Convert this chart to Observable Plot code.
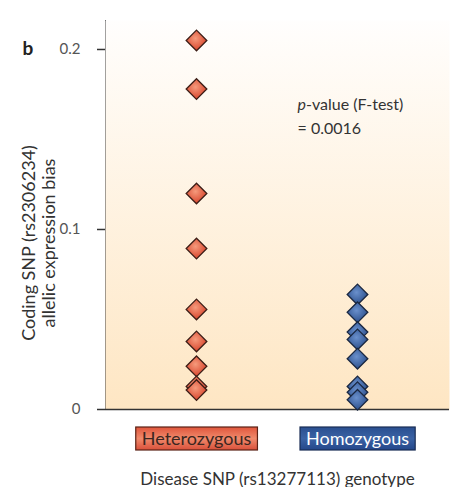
<!DOCTYPE html>
<html>
<head>
<meta charset="utf-8">
<script src="https://cdn.jsdelivr.net/npm/d3@7"></script>
<script src="https://cdn.jsdelivr.net/npm/@observablehq/plot@0.6"></script>
<style>
  html, body { margin: 0; padding: 0; background: #fff; }
  #chart svg { display: block; }
</style>
</head>
<body>
<div id="chart"></div>
<script>
// Categories and values (allelic expression bias)
const categories = ["Heterozygous", "Homozygous"];
const heterozygous = [0.205, 0.178, 0.120, 0.0894, 0.0556, 0.0378, 0.024, 0.0128, 0.0108];
const homozygous = [0.0639, 0.054, 0.043, 0.0389, 0.0282, 0.0128, 0.0096, 0.0054];
const yTicks = [0, 0.1, 0.2];
const panelLabel = "b";
const yTitle = "Coding SNP (rs2306234)\nallelic expression bias";
const xTitle = "Disease SNP (rs13277113) genotype";
const pLine1 = "p-value (F-test)";
const pLine2 = "= 0.0016";

const points = [
  ...heterozygous.map(v => ({group: categories[0], value: v})),
  ...homozygous.map(v => ({group: categories[1], value: v}))
];

const font = "Lato, 'Open Sans', sans-serif";

const plot = Plot.plot({
  width: 454,
  height: 487,
  marginLeft: 105,
  marginRight: 5,
  marginTop: 20,
  marginBottom: 78,
  style: {fontFamily: font, fontSize: "14px", color: "#444", background: "transparent"},
  x: {type: "point", domain: categories, range: [196, 357], padding: 0, axis: null},
  y: {
    domain: [0, 0.2161],
    ticks: yTicks,
    tickFormat: d => String(d),
    tickSize: 8,
    tickPadding: 17,
    line: true,
    label: null
  },
  marks: [
    Plot.frame({fill: "url(#bgGrad)", stroke: "none"}),
    Plot.ruleY([0], {stroke: "#333", strokeWidth: 1.5}),
    Plot.dot(points, {
      x: "group",
      y: "value",
      symbol: "diamond2",
      r: 9.3,
      fill: d => d.group === categories[0] ? "url(#redGrad)" : "url(#blueGrad)",
      stroke: d => d.group === categories[0] ? "#3b1d16" : "#1a2740",
      strokeWidth: 1.3
    }),
    // x category labels
    Plot.text(categories, {
      x: d => d,
      frameAnchor: "bottom",
      dy: 35,
      text: d => d,
      fontSize: 18,
      fill: d => d === categories[0] ? "#3b2620" : "#ffffff",
      className: "xcat"
    }),
    // x title
    Plot.text([xTitle], {frameAnchor: "bottom", dy: 75, fontSize: 17, fill: "#333"}),
    // y title
    Plot.text([yTitle], {frameAnchor: "left", textAnchor: "middle", rotate: -90, dx: -67, dy: 28, fontSize: 18, fill: "#333", lineHeight: 1.15}),
    // panel label
    Plot.text([panelLabel], {frameAnchor: "top-left", dx: -83, dy: 21, fontSize: 19, fontWeight: "bold", fill: "#222"}),
    // annotation
    Plot.text([pLine1], {frameAnchor: "top-left", dx: 192, dy: 78, textAnchor: "start", fontSize: 16, fill: "#333", className: "pline"}),
    Plot.text([pLine2], {frameAnchor: "top-left", dx: 192, dy: 102, textAnchor: "start", fontSize: 16, fill: "#333"})
  ]
});

document.getElementById("chart").appendChild(plot);

const svg = d3.select(plot);
svg.selectAll("g[aria-label^='y-axis'] path, g[aria-label^='y-axis'] line").attr("stroke", "#333").attr("stroke-width", 1.5);
svg.selectAll("g[aria-label^='y-axis'] text").attr("fill", "#555").attr("font-size", 15);

const defs = svg.insert("defs", ":first-child");
const bg = defs.append("linearGradient").attr("id", "bgGrad").attr("x1", 0).attr("y1", 0).attr("x2", 0).attr("y2", 1);
bg.append("stop").attr("offset", "0%").attr("stop-color", "#fffefd");
bg.append("stop").attr("offset", "100%").attr("stop-color", "#fee6c3");
const rg = defs.append("radialGradient").attr("id", "redGrad").attr("cx", "45%").attr("cy", "40%").attr("r", "60%");
rg.append("stop").attr("offset", "0%").attr("stop-color", "#f59a7c");
rg.append("stop").attr("offset", "100%").attr("stop-color", "#d7432b");
const bgr = defs.append("radialGradient").attr("id", "blueGrad").attr("cx", "45%").attr("cy", "40%").attr("r", "60%");
bgr.append("stop").attr("offset", "0%").attr("stop-color", "#6a90cc");
bgr.append("stop").attr("offset", "100%").attr("stop-color", "#2b4f8c");
const hg = defs.append("linearGradient").attr("id", "hetBox").attr("x1", 0).attr("y1", 0).attr("x2", 0).attr("y2", 1);
hg.append("stop").attr("offset", "0%").attr("stop-color", "#e0563c");
hg.append("stop").attr("offset", "50%").attr("stop-color", "#f08a6c");
hg.append("stop").attr("offset", "100%").attr("stop-color", "#d9503a");
const og = defs.append("linearGradient").attr("id", "homBox").attr("x1", 0).attr("y1", 0).attr("x2", 0).attr("y2", 1);
og.append("stop").attr("offset", "0%").attr("stop-color", "#2a4f90");
og.append("stop").attr("offset", "50%").attr("stop-color", "#3a62a4");
og.append("stop").attr("offset", "100%").attr("stop-color", "#24478a");

// boxes behind category labels
svg.selectAll(".xcat text").each(function() {
  const b = this.getBBox();
  const isHet = this.textContent === categories[0];
  const t = this.getAttribute("transform");
  d3.select(this.parentNode).insert("rect", () => this)
    .attr("transform", t)
    .attr("x", b.x - 6).attr("y", b.y + 0.5)
    .attr("width", b.width + 12).attr("height", b.height + 1)
    .attr("fill", isHet ? "url(#hetBox)" : "url(#homBox)")
    .attr("stroke", isHet ? "#5a2216" : "#1a2d55")
    .attr("stroke-width", 1.2);
});

// italic p in annotation
svg.selectAll(".pline text").each(function() {
  const s = this.textContent;
  const el = d3.select(this);
  el.text(null);
  el.append("tspan").attr("font-style", "italic").text(s.slice(0, 1));
  el.append("tspan").text(s.slice(1));
});
</script>
</body>
</html>
